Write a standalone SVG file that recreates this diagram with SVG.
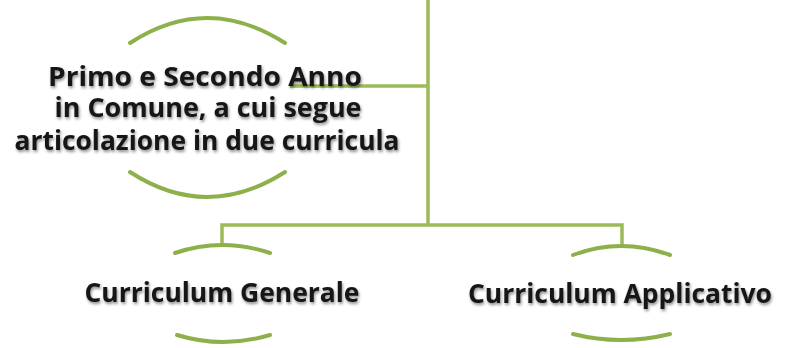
<svg xmlns="http://www.w3.org/2000/svg" width="787" height="348" viewBox="0 0 787 348">
<defs>
<filter id="sh" x="-5%" y="-20%" width="110%" height="140%">
<feDropShadow dx="1" dy="2" stdDeviation="1.4" flood-color="#000" flood-opacity="0.45"/>
</filter>
</defs>
<style>
.ln{fill:none;stroke:#9bbb59;stroke-width:3.5;}
.arc{fill:none;stroke:#8eb04a;stroke-width:4;stroke-linecap:round;}
.t{font-family:"Open Sans","Noto Sans","Liberation Sans",sans-serif;font-weight:700;font-size:26px;fill:#161616;text-anchor:middle;filter:url(#sh);}
</style>
<rect width="787" height="348" fill="#fff"/>
<g id="connectors">
<path class="ln" d="M428,0 V225"/>
<path class="ln" d="M290,86 H428"/>
<path class="ln" d="M222,245 V225 H622 V247"/>
</g>
<g id="node-anno">
<path class="arc" d="M130,43 Q207,-7 285,43"/>
<path class="arc" d="M130,172 Q207,222 285,172"/>
<text class="t" x="205" y="86" textLength="314" lengthAdjust="spacingAndGlyphs">Primo e Secondo Anno</text>
<text class="t" x="208" y="117" textLength="307" lengthAdjust="spacingAndGlyphs">in Comune, a cui segue</text>
<text class="t" x="207" y="150" textLength="385" lengthAdjust="spacingAndGlyphs">articolazione in due curricula</text>
</g>
<g id="node-generale">
<path class="arc" d="M175,253 Q222,237 270,253"/>
<path class="arc" d="M177,335 Q223,349 270,335"/>
<text class="t" x="222" y="302" textLength="275" lengthAdjust="spacingAndGlyphs">Curriculum Generale</text>
</g>
<g id="node-applicativo">
<path class="arc" d="M573,255 Q621,237 670,255"/>
<path class="arc" d="M573,334 Q621,346 670,334"/>
<text class="t" x="620" y="303" textLength="304" lengthAdjust="spacingAndGlyphs">Curriculum Applicativo</text>
</g>
</svg>
